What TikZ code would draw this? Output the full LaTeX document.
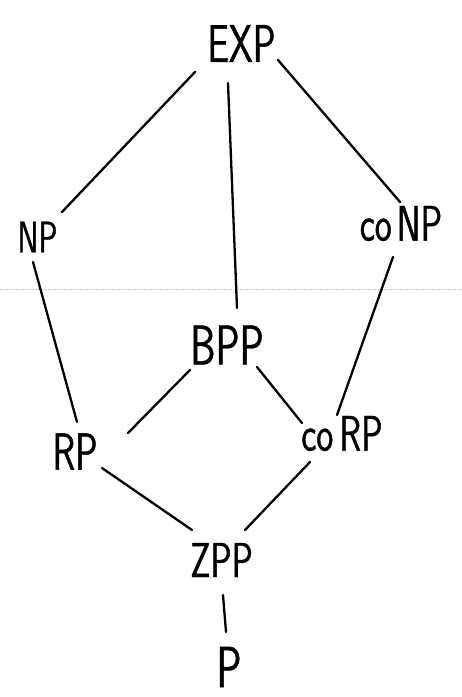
\documentclass[tikz,border=0pt]{standalone}
\usepackage{fontspec}
% narrow sans for the class names, slightly thickened like pen strokes
\newfontfamily\hand{lmsans17-regular.otf}[FakeStretch=0.72, FakeBold=0.8]
\tikzset{
  lbl/.style={font=\hand\fontsize{#1}{#1}\selectfont, inner sep=0pt, text=black},
  link/.style={line width=2.3pt, line cap=round, black},
  faint/.style={line width=0.6pt, gray!45, dash pattern=on 2pt off 1.2pt},
}
\begin{document}
\begin{tikzpicture}[x=1pt, y=-1pt]
  \useasboundingbox[fill=white] (0,0) rectangle (462,697);

  % faint horizontal rule across the sheet
  \draw[faint] (0,289) -- (462,289);

  % complexity classes
  \node[lbl=53] (exp)  at (241.5,43.5) {EXP};
  \node[lbl=44] (np)   at (37.5,237)   {NP};
  \node[lbl=50] (conp) at (401,223.5)  {co\kern5pt NP};
  \node[lbl=56] (bpp)  at (227,345)    {BPP};
  \node[lbl=52] (rp)   at (75,451.5)   {RP};
  \node[lbl=50] (corp) at (342,433.5)  {co\kern6pt RP};
  \node[lbl=49] (zpp)  at (221.5,560)  {ZPP};
  \node[lbl=58] (p)    at (229,667)    {P};

  % inclusions
  \draw[link] ([shift={(-46.5,28.5)}]exp.center) -- ([shift={(24.5,-25)}]np.center);
  \draw[link] ([shift={(-13.5,39.5)}]exp.center) -- ([shift={(10,-37)}]bpp.center);
  \draw[link] ([shift={(36.5,16.5)}]exp.center)  -- ([shift={(-1,-21.5)}]conp.center);
  \draw[link] ([shift={(-4.5,25)}]np.center)     -- ([shift={(2,-29.5)}]rp.center);
  \draw[link] ([shift={(-8,33.5)}]conp.center)   -- ([shift={(-5,-18.5)}]corp.center);
  \draw[link] ([shift={(-37,25)}]bpp.center)     -- ([shift={(53,-18.5)}]rp.center);
  \draw[link] ([shift={(30,22)}]bpp.center)      -- ([shift={(-40,-10.5)}]corp.center);
  \draw[link] ([shift={(27,16.5)}]rp.center)     -- ([shift={(-29.5,-30)}]zpp.center);
  \draw[link] ([shift={(-32,28.5)}]corp.center)  -- ([shift={(23.5,-30)}]zpp.center);
  \draw[link] ([shift={(1.5,35)}]zpp.center)     -- ([shift={(-3,-35)}]p.center);
\end{tikzpicture}
\end{document}
